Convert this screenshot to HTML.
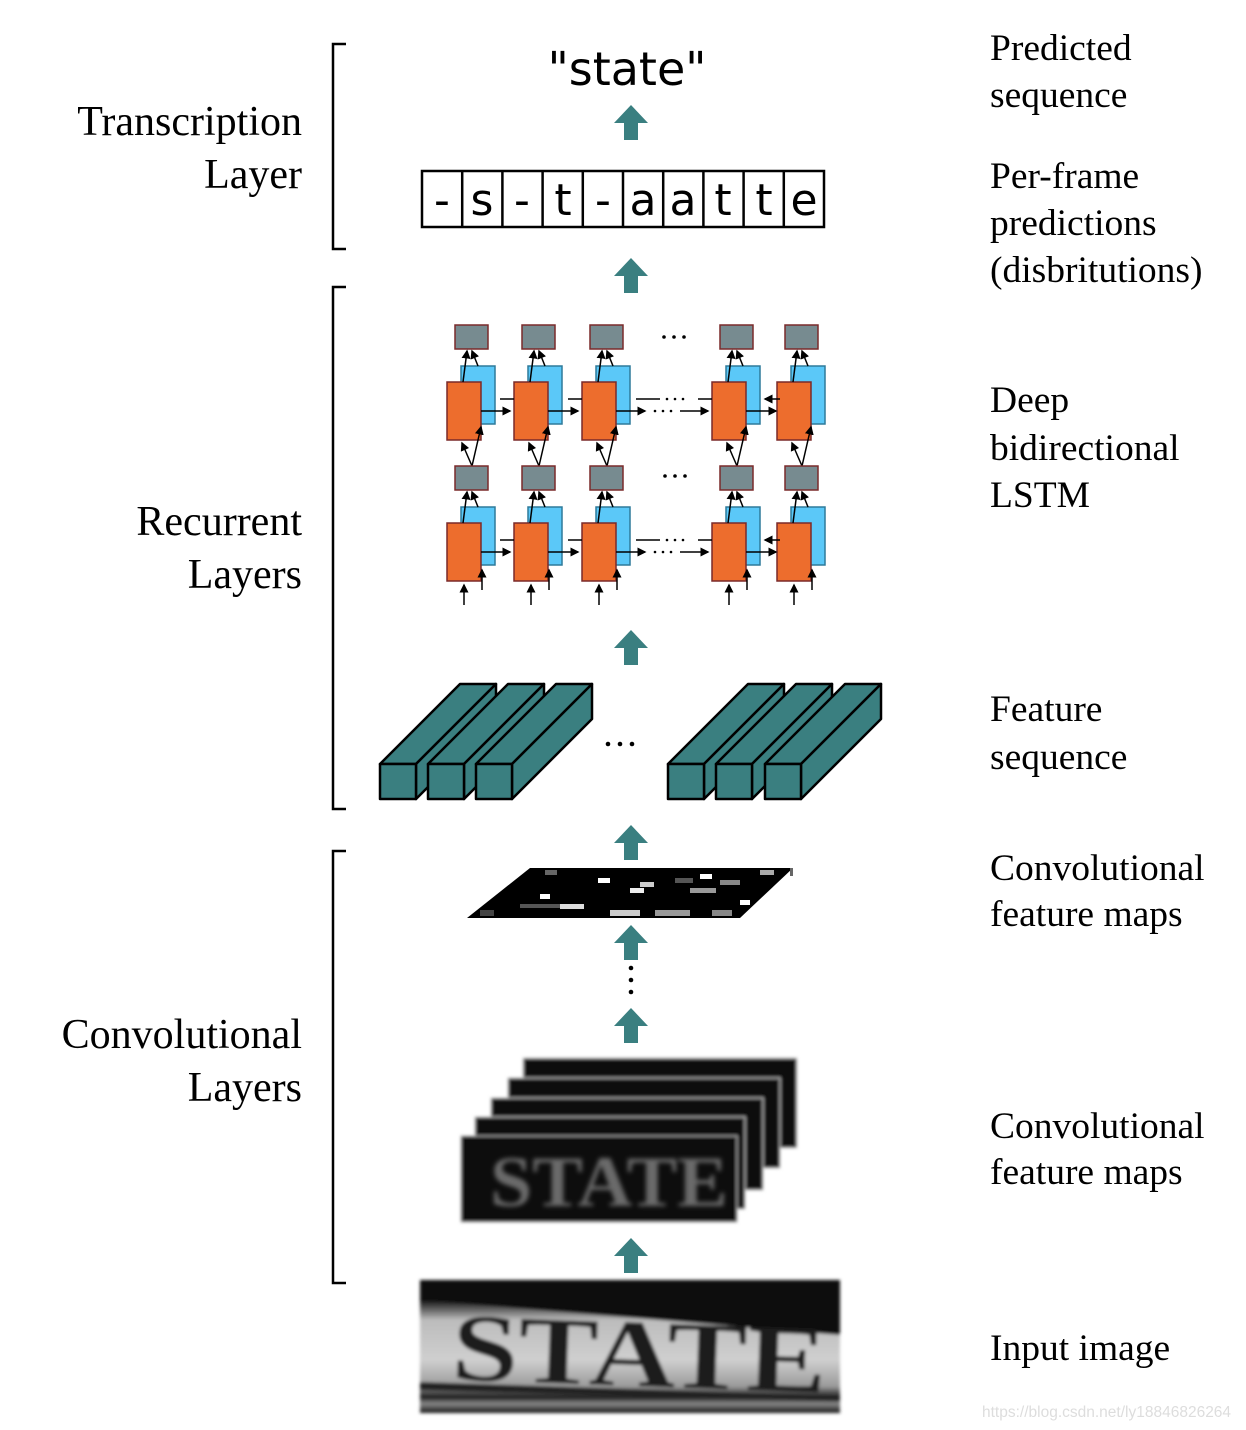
<!DOCTYPE html>
<html><head><meta charset="utf-8"><style>
html,body{margin:0;padding:0;background:#fff;}
svg{display:block;}
.s{font-family:"Liberation Serif",serif;fill:#000;}
.a{font-family:"DejaVu Sans","Liberation Sans",sans-serif;fill:#000;}
</style></head><body>
<svg width="1246" height="1430" viewBox="0 0 1246 1430" xmlns="http://www.w3.org/2000/svg">
<defs>
<marker id="ah" markerWidth="6" markerHeight="6" refX="5" refY="3" orient="auto"><path d="M0,0 L6,3 L0,6 z" fill="#000"/></marker>
<g id="arr"><path d="M-17,18 L0,0 L17,18 L7,18 L7,35 L-7,35 L-7,18 z" fill="#3a7f80"/></g>
<linearGradient id="ig" x1="0" y1="0" x2="0" y2="1">
<stop offset="0" stop-color="#050505"/><stop offset="0.15" stop-color="#111"/><stop offset="0.3" stop-color="#bcbcbc"/><stop offset="0.6" stop-color="#cfcfcf"/><stop offset="0.8" stop-color="#9a9a9a"/><stop offset="0.88" stop-color="#1a1a1a"/><stop offset="0.93" stop-color="#888"/><stop offset="1" stop-color="#111"/></linearGradient>
<filter id="bl"><feGaussianBlur stdDeviation="1.5"/></filter>
<filter id="bl2"><feGaussianBlur stdDeviation="2.5"/></filter>
</defs>

<g stroke="#000" stroke-width="2.5" fill="none">
<path d="M346,44 L333,44 L333,249 L346,249"/>
<path d="M346,287 L333,287 L333,809 L346,809"/>
<path d="M346,851 L333,851 L333,1283 L346,1283"/>
</g>

<g class="s" font-size="42" text-anchor="end">
<text x="302" y="135">Transcription</text><text x="302" y="188">Layer</text>
<text x="302" y="535">Recurrent</text><text x="302" y="588">Layers</text>
<text x="302" y="1048">Convolutional</text><text x="302" y="1101">Layers</text>
</g>
<g class="s" font-size="37.5">
<text x="990" y="60">Predicted</text><text x="990" y="107">sequence</text>
<text x="990" y="188">Per-frame</text><text x="990" y="235">predictions</text><text x="990" y="282">(disbritutions)</text>
<text x="990" y="412">Deep</text><text x="990" y="460">bidirectional</text><text x="990" y="507">LSTM</text>
<text x="990" y="721">Feature</text><text x="990" y="769">sequence</text>
<text x="990" y="880">Convolutional</text><text x="990" y="926">feature maps</text>
<text x="990" y="1138">Convolutional</text><text x="990" y="1184">feature maps</text>
<text x="990" y="1360">Input image</text>
</g>

<text class="a" x="627" y="85" font-size="46" text-anchor="middle">"state"</text>

<use href="#arr" x="631" y="105"/><use href="#arr" x="631" y="258"/><use href="#arr" x="631" y="630"/>
<use href="#arr" x="631" y="825"/><use href="#arr" x="631" y="925"/><use href="#arr" x="631" y="1008"/><use href="#arr" x="631" y="1238"/>

<rect x="422" y="171" width="402" height="56" fill="#fff" stroke="#000" stroke-width="2.5"/>
<g stroke="#000" stroke-width="2.5">
<line x1="462.2" y1="171" x2="462.2" y2="227"/><line x1="502.4" y1="171" x2="502.4" y2="227"/><line x1="542.6" y1="171" x2="542.6" y2="227"/><line x1="582.8" y1="171" x2="582.8" y2="227"/><line x1="623" y1="171" x2="623" y2="227"/><line x1="663.2" y1="171" x2="663.2" y2="227"/><line x1="703.4" y1="171" x2="703.4" y2="227"/><line x1="743.6" y1="171" x2="743.6" y2="227"/><line x1="783.8" y1="171" x2="783.8" y2="227"/>
</g>
<g class="a" font-size="44" text-anchor="middle">
<text x="442" y="215">-</text><text x="482" y="215">s</text><text x="522" y="215">-</text><text x="563" y="215">t</text><text x="603" y="215">-</text><text x="643" y="215">a</text><text x="683" y="215">a</text><text x="723" y="215">t</text><text x="764" y="215">t</text><text x="804" y="215">e</text>
</g>

<g stroke="#000" stroke-width="1.5">
<g id="col">
 <rect x="455" y="325" width="33" height="24" fill="#778b90" stroke="#7a2a2a"/>
 <rect x="461" y="366" width="34" height="58" fill="#5bc8f8" stroke="#2e7a9a"/>
 <rect x="447" y="382" width="34" height="58" fill="#ed6d2d" stroke="#7a2a2a"/>
 <line x1="463" y1="382" x2="467" y2="351" marker-end="url(#ah)"/>
 <line x1="478" y1="366" x2="472" y2="351" marker-end="url(#ah)"/>
 <line x1="472" y1="466" x2="462" y2="443" marker-end="url(#ah)"/>
 <line x1="472" y1="466" x2="481" y2="427" marker-end="url(#ah)"/>
 <rect x="455" y="466" width="33" height="24" fill="#778b90" stroke="#7a2a2a"/>
 <rect x="461" y="507" width="34" height="58" fill="#5bc8f8" stroke="#2e7a9a"/>
 <rect x="447" y="523" width="34" height="58" fill="#ed6d2d" stroke="#7a2a2a"/>
 <line x1="463" y1="523" x2="467" y2="492" marker-end="url(#ah)"/>
 <line x1="478" y1="507" x2="472" y2="492" marker-end="url(#ah)"/>
 <line x1="464" y1="605" x2="464" y2="585" marker-end="url(#ah)"/>
 <line x1="482" y1="590" x2="482" y2="570" marker-end="url(#ah)"/>
</g>
<use href="#col" x="67"/><use href="#col" x="135"/><use href="#col" x="265"/><use href="#col" x="330"/>
<g id="hc">
 <line x1="481" y1="411" x2="510" y2="411" marker-end="url(#ah)"/>
 <line x1="500" y1="399" x2="514" y2="399"/>
 <line x1="548" y1="411" x2="578" y2="411" marker-end="url(#ah)"/>
 <line x1="568" y1="399" x2="582" y2="399"/>
 <line x1="616" y1="411" x2="645" y2="411" marker-end="url(#ah)"/>
 <line x1="636" y1="399" x2="660" y2="399"/>
 <line x1="680" y1="411" x2="708" y2="411" marker-end="url(#ah)"/>
 <line x1="698" y1="399" x2="712" y2="399"/>
 <line x1="746" y1="411" x2="776" y2="411" marker-end="url(#ah)"/>
 <line x1="780" y1="399" x2="765" y2="399" marker-end="url(#ah)"/>
</g>
<use href="#hc" y="141"/>
</g>
<g fill="#000">
<circle cx="664" cy="337" r="1.8"/><circle cx="674" cy="337" r="1.8"/><circle cx="684" cy="337" r="1.8"/>
<circle cx="665" cy="476" r="1.8"/><circle cx="675" cy="476" r="1.8"/><circle cx="685" cy="476" r="1.8"/>
<circle cx="667" cy="399" r="1.3"/><circle cx="675" cy="399" r="1.3"/><circle cx="683" cy="399" r="1.3"/>
<circle cx="655" cy="411" r="1.3"/><circle cx="663" cy="411" r="1.3"/><circle cx="671" cy="411" r="1.3"/>
<circle cx="667" cy="540" r="1.3"/><circle cx="675" cy="540" r="1.3"/><circle cx="683" cy="540" r="1.3"/>
<circle cx="655" cy="552" r="1.3"/><circle cx="663" cy="552" r="1.3"/><circle cx="671" cy="552" r="1.3"/>
</g>

<g id="blk" fill="#3a7f80" stroke="#000" stroke-width="2.5" stroke-linejoin="round">
<path d="M380,764 L460,684 L496,684 L416,764 z"/>
<path d="M416,764 L496,684 L496,719 L416,799 z"/>
<rect x="380" y="764" width="36" height="35"/>
</g>
<use href="#blk" x="48"/><use href="#blk" x="96"/>
<use href="#blk" x="288"/><use href="#blk" x="336"/><use href="#blk" x="385"/>
<g fill="#000"><circle cx="608" cy="744" r="2.3"/><circle cx="620" cy="744" r="2.3"/><circle cx="632" cy="744" r="2.3"/></g>

<path d="M530,868 L793,868 L740,918 L467,918 z" fill="#000"/>
<g>
<rect x="545" y="870" width="12" height="5" fill="#666"/><rect x="598" y="878" width="12" height="5" fill="#fff"/><rect x="640" y="882" width="14" height="5" fill="#ccc"/>
<rect x="675" y="878" width="18" height="5" fill="#555"/><rect x="700" y="874" width="12" height="5" fill="#fff"/><rect x="720" y="880" width="20" height="5" fill="#888"/>
<rect x="760" y="870" width="14" height="5" fill="#aaa"/><rect x="540" y="894" width="10" height="5" fill="#fff"/><rect x="630" y="888" width="14" height="5" fill="#eee"/>
<rect x="690" y="888" width="26" height="5" fill="#999"/><rect x="740" y="900" width="10" height="5" fill="#fff"/><rect x="520" y="904" width="60" height="4" fill="#555"/>
<rect x="560" y="904" width="24" height="5" fill="#ddd"/><rect x="610" y="910" width="30" height="6" fill="#ccc"/><rect x="655" y="910" width="35" height="6" fill="#999"/>
<rect x="712" y="910" width="20" height="6" fill="#888"/><rect x="480" y="910" width="14" height="6" fill="#444"/><rect x="790" y="868" width="3" height="8" fill="#666"/>
</g>
<g fill="#000"><circle cx="631" cy="968" r="2.3"/><circle cx="631" cy="980" r="2.3"/><circle cx="631" cy="992" r="2.3"/></g>

<g filter="url(#bl)">
<rect x="523" y="1058" width="274" height="90" fill="#0a0a0a" stroke="#ddd"/>
<rect x="508" y="1078" width="272" height="90" fill="#0a0a0a" stroke="#ccc"/>
<rect x="491" y="1098" width="272" height="92" fill="#0a0a0a" stroke="#ccc"/>
<rect x="475" y="1117" width="270" height="92" fill="#0a0a0a" stroke="#ccc"/>
<rect x="461" y="1136" width="276" height="86" fill="#080808" stroke="#bbb"/>
</g>
<text x="490" y="1206" font-family="Liberation Serif,serif" font-weight="bold" font-size="72" fill="#6a6a6a" textLength="238" lengthAdjust="spacingAndGlyphs" filter="url(#bl2)">STATE</text>

<g filter="url(#bl)">
<rect x="420" y="1280" width="420" height="133" fill="url(#ig)"/>
<path d="M420,1280 L840,1280 L840,1335 L420,1300 z" fill="#0a0a0a"/>
<path d="M420,1382 L840,1396 L840,1401 L420,1390 z" fill="#222"/>
<text x="452" y="1386" font-family="Liberation Serif,serif" font-weight="bold" font-size="96" fill="#1a1a1a" textLength="375" lengthAdjust="spacingAndGlyphs" transform="rotate(2 640 1350)">STATE</text>
</g>

<text x="982" y="1417" font-family="Liberation Sans,sans-serif" font-size="15.5" fill="#ddd">https://blog.csdn.net/ly18846826264</text>
</svg>
</body></html>
